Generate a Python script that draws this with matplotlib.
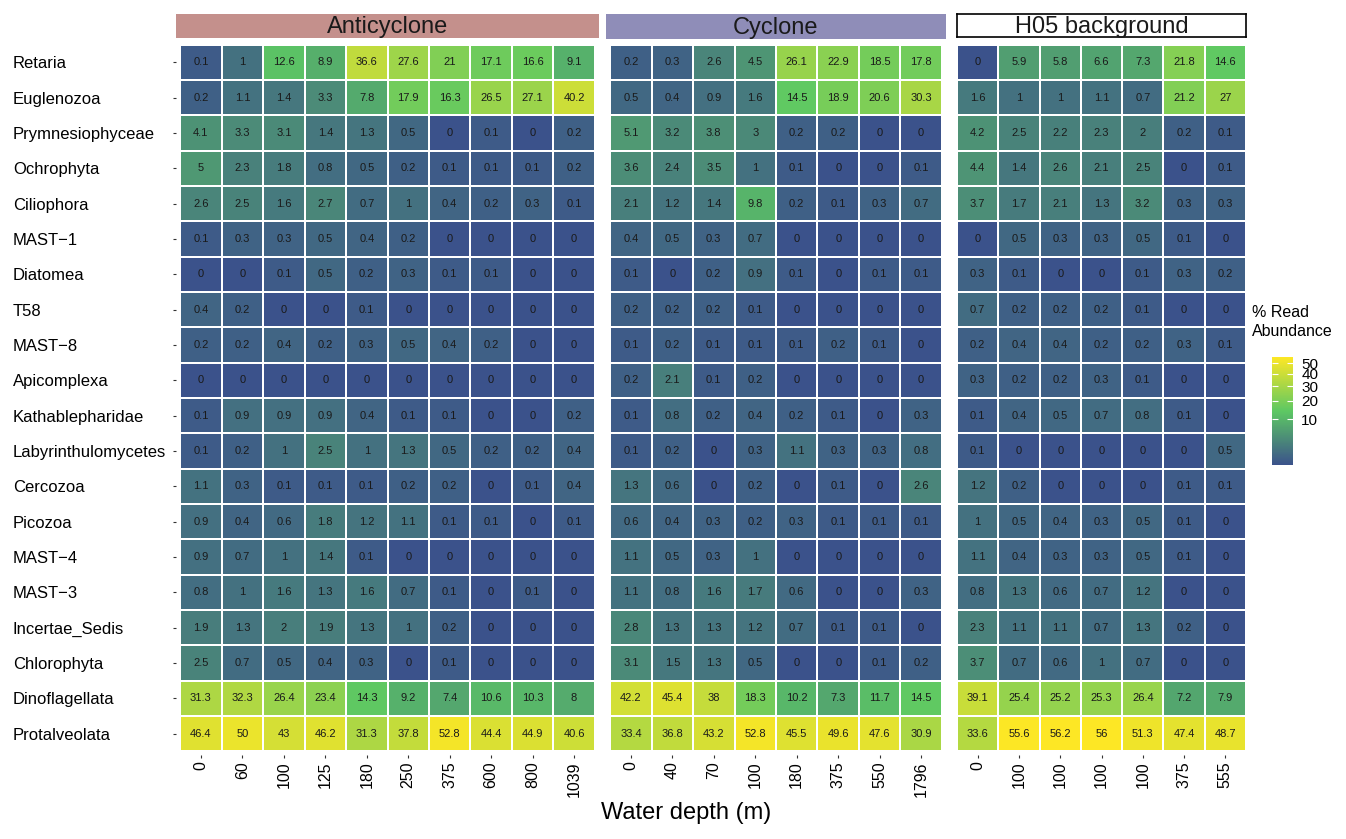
import numpy as np
import matplotlib
matplotlib.use("Agg")
import matplotlib.pyplot as plt
import matplotlib.colors as colors

plt.rcParams['font.family'] = ['Liberation Sans', 'DejaVu Sans']

taxa = ["Retaria", "Euglenozoa", "Prymnesiophyceae", "Ochrophyta", "Ciliophora",
        "MAST\u22121", "Diatomea", "T58", "MAST\u22128", "Apicomplexa",
        "Kathablepharidae", "Labyrinthulomycetes", "Cercozoa", "Picozoa",
        "MAST\u22124", "MAST\u22123", "Incertae_Sedis", "Chlorophyta",
        "Dinoflagellata", "Protalveolata"]

depth_anti = ["0", "60", "100", "125", "180", "250", "375", "600", "800", "1039"]
depth_cyc = ["0", "40", "70", "100", "180", "375", "550", "1796"]
depth_h05 = ["0", "100", "100", "100", "100", "375", "555"]

anticyclone = [
  [0.1, 1, 12.6, 8.9, 36.6, 27.6, 21, 17.1, 16.6, 9.1],
  [0.2, 1.1, 1.4, 3.3, 7.8, 17.9, 16.3, 26.5, 27.1, 40.2],
  [4.1, 3.3, 3.1, 1.4, 1.3, 0.5, 0, 0.1, 0, 0.2],
  [5, 2.3, 1.8, 0.8, 0.5, 0.2, 0.1, 0.1, 0.1, 0.2],
  [2.6, 2.5, 1.6, 2.7, 0.7, 1, 0.4, 0.2, 0.3, 0.1],
  [0.1, 0.3, 0.3, 0.5, 0.4, 0.2, 0, 0, 0, 0],
  [0, 0, 0.1, 0.5, 0.2, 0.3, 0.1, 0.1, 0, 0],
  [0.4, 0.2, 0, 0, 0.1, 0, 0, 0, 0, 0],
  [0.2, 0.2, 0.4, 0.2, 0.3, 0.5, 0.4, 0.2, 0, 0],
  [0, 0, 0, 0, 0, 0, 0, 0, 0, 0],
  [0.1, 0.9, 0.9, 0.9, 0.4, 0.1, 0.1, 0, 0, 0.2],
  [0.1, 0.2, 1, 2.5, 1, 1.3, 0.5, 0.2, 0.2, 0.4],
  [1.1, 0.3, 0.1, 0.1, 0.1, 0.2, 0.2, 0, 0.1, 0.4],
  [0.9, 0.4, 0.6, 1.8, 1.2, 1.1, 0.1, 0.1, 0, 0.1],
  [0.9, 0.7, 1, 1.4, 0.1, 0, 0, 0, 0, 0],
  [0.8, 1, 1.6, 1.3, 1.6, 0.7, 0.1, 0, 0.1, 0],
  [1.9, 1.3, 2, 1.9, 1.3, 1, 0.2, 0, 0, 0],
  [2.5, 0.7, 0.5, 0.4, 0.3, 0, 0.1, 0, 0, 0],
  [31.3, 32.3, 26.4, 23.4, 14.3, 9.2, 7.4, 10.6, 10.3, 8],
  [46.4, 50, 43, 46.2, 31.3, 37.8, 52.8, 44.4, 44.9, 40.6],
]

cyclone = [
  [0.2, 0.3, 2.6, 4.5, 26.1, 22.9, 18.5, 17.8],
  [0.5, 0.4, 0.9, 1.6, 14.5, 18.9, 20.6, 30.3],
  [5.1, 3.2, 3.8, 3, 0.2, 0.2, 0, 0],
  [3.6, 2.4, 3.5, 1, 0.1, 0, 0, 0.1],
  [2.1, 1.2, 1.4, 9.8, 0.2, 0.1, 0.3, 0.7],
  [0.4, 0.5, 0.3, 0.7, 0, 0, 0, 0],
  [0.1, 0, 0.2, 0.9, 0.1, 0, 0.1, 0.1],
  [0.2, 0.2, 0.2, 0.1, 0, 0, 0, 0],
  [0.1, 0.2, 0.1, 0.1, 0.1, 0.2, 0.1, 0],
  [0.2, 2.1, 0.1, 0.2, 0, 0, 0, 0],
  [0.1, 0.8, 0.2, 0.4, 0.2, 0.1, 0, 0.3],
  [0.1, 0.2, 0, 0.3, 1.1, 0.3, 0.3, 0.8],
  [1.3, 0.6, 0, 0.2, 0, 0.1, 0, 2.6],
  [0.6, 0.4, 0.3, 0.2, 0.3, 0.1, 0.1, 0.1],
  [1.1, 0.5, 0.3, 1, 0, 0, 0, 0],
  [1.1, 0.8, 1.6, 1.7, 0.6, 0, 0, 0.3],
  [2.8, 1.3, 1.3, 1.2, 0.7, 0.1, 0.1, 0],
  [3.1, 1.5, 1.3, 0.5, 0, 0, 0.1, 0.2],
  [42.2, 45.4, 38, 18.3, 10.2, 7.3, 11.7, 14.5],
  [33.4, 36.8, 43.2, 52.8, 45.5, 49.6, 47.6, 30.9],
]

h05 = [
  [0, 5.9, 5.8, 6.6, 7.3, 21.8, 14.6],
  [1.6, 1, 1, 1.1, 0.7, 21.2, 27],
  [4.2, 2.5, 2.2, 2.3, 2, 0.2, 0.1],
  [4.4, 1.4, 2.6, 2.1, 2.5, 0, 0.1],
  [3.7, 1.7, 2.1, 1.3, 3.2, 0.3, 0.3],
  [0, 0.5, 0.3, 0.3, 0.5, 0.1, 0],
  [0.3, 0.1, 0, 0, 0.1, 0.3, 0.2],
  [0.7, 0.2, 0.2, 0.2, 0.1, 0, 0],
  [0.2, 0.4, 0.4, 0.2, 0.2, 0.3, 0.1],
  [0.3, 0.2, 0.2, 0.3, 0.1, 0, 0],
  [0.1, 0.4, 0.5, 0.7, 0.8, 0.1, 0],
  [0.1, 0, 0, 0, 0, 0, 0.5],
  [1.2, 0.2, 0, 0, 0, 0.1, 0.1],
  [1, 0.5, 0.4, 0.3, 0.5, 0.1, 0],
  [1.1, 0.4, 0.3, 0.3, 0.5, 0.1, 0],
  [0.8, 1.3, 0.6, 0.7, 1.2, 0, 0],
  [2.3, 1.1, 1.1, 0.7, 1.3, 0.2, 0],
  [3.7, 0.7, 0.6, 1, 0.7, 0, 0],
  [39.1, 25.4, 25.2, 25.3, 26.4, 7.2, 7.9],
  [33.6, 55.6, 56.2, 56, 51.3, 47.4, 48.7],
]

W, H = 1346, 839
cmap = colors.LinearSegmentedColormap.from_list("abund", ["#3B528B", "#5DC863", "#FDE725"])
norm = colors.PowerNorm(gamma=0.5, vmin=0, vmax=56.2)


def rect(x0, y0, x1, y1):
  # pixel box -> figure fraction
  return [x0 / W, 1 - y1 / H, (x1 - x0) / W, (y1 - y0) / H]


def panel(fig, box, data, labels, xpad, show_y):
  data = np.array(data)
  nr, nc = data.shape
  ax = fig.add_axes(rect(*box))
  ax.pcolormesh(np.arange(nc + 1) - 0.5, np.arange(nr + 1) - 0.5, data,
                cmap=cmap, norm=norm, edgecolors='white', linewidth=1.2)
  for i in range(nr):
    for j in range(nc):
      ax.text(j, i, f"{data[i, j]:g}", ha='center', va='center',
              fontsize=8, color='#1a1a1a')
  ax.set_xlim(-0.5 - xpad, nc - 0.5 + xpad)
  ax.set_ylim(nr - 0.4, -0.6)
  ax.set_xticks(np.arange(nc))
  ax.set_xticklabels(labels, rotation=90, fontsize=11.5, va='top')
  ax.tick_params(axis='x', length=2.5, width=0.8, color='#333333', pad=2)
  if show_y:
    ax.set_yticks(np.arange(nr))
    ax.set_yticklabels(taxa, fontsize=12)
    ax.tick_params(axis='y', length=2.5, width=0.8, color='#333333', pad=115)
    for t in ax.get_yticklabels():
      t.set_ha('left')
      t.set_va('center_baseline')
  else:
    ax.set_yticks([])
  for s in ax.spines.values():
    s.set_visible(False)
  return ax


def strip(fig, box, title, fc, ec=None):
  ax = fig.add_axes(rect(*box))
  ax.set_facecolor(fc)
  ax.set_xticks([])
  ax.set_yticks([])
  for s in ax.spines.values():
    if ec is None:
      s.set_visible(False)
    else:
      s.set_edgecolor(ec)
      s.set_linewidth(1.2)
  ax.text(0.5, 0.45, title, ha='center', va='center', fontsize=17, color='#1a1a1a',
          transform=ax.transAxes)


fig = plt.figure(figsize=(13.46, 8.39), dpi=100)

panel(fig, (176, 41, 599, 755), anticyclone, depth_anti, 0.1, True)
panel(fig, (606, 41, 946, 755), cyclone, depth_cyc, 0.1, False)
panel(fig, (957, 41, 1246, 755), h05, depth_h05, 0.0, False)

strip(fig, (176, 14, 599, 38), "Anticyclone", "#C4908C")
strip(fig, (606, 14, 946, 39), "Cyclone", "#8F8DB8")
strip(fig, (957, 14, 1246, 37), "H05 background", "white", ec="black")

fig.text(686 / W, 1 - 813 / H, "Water depth (m)", ha='center', va='center', fontsize=17)

# colour bar
cax = fig.add_axes(rect(1272, 357, 1293, 465))
sm = plt.cm.ScalarMappable(norm=norm, cmap=cmap)
cb = fig.colorbar(sm, cax=cax, ticks=[10, 20, 30, 40, 50])
cb.outline.set_visible(False)
cax.yaxis.set_ticks_position('both')
cax.tick_params(axis='y', direction='in', length=4, width=0.8, colors='white',
                labelcolor='black', labelsize=11, pad=6)
cax.tick_params(axis='y', labelleft=False, labelright=True)
fig.text(1252 / W, 1 - 305 / H, "% Read\nAbundance", ha='left', va='top',
         fontsize=11.5, linespacing=1.3)

fig.savefig("out.png", dpi=100, facecolor='white')
